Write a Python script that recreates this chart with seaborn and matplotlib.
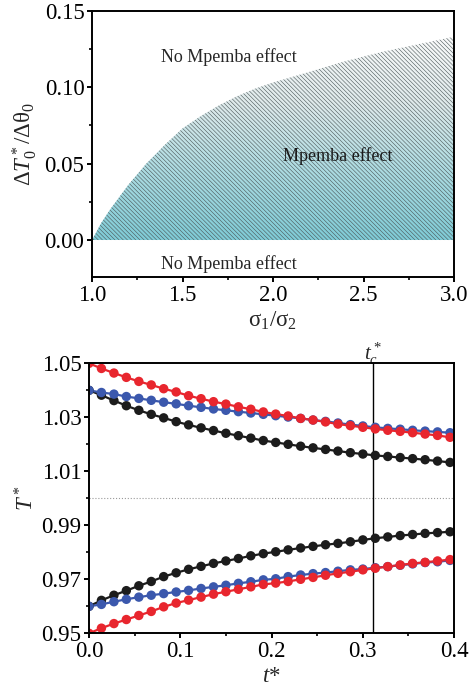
import numpy as np
import pandas as pd
import matplotlib
matplotlib.use("Agg")
import matplotlib.pyplot as plt
from matplotlib.colors import LinearSegmentedColormap
from matplotlib.ticker import MultipleLocator, FormatStrFormatter
import seaborn as sns

# ---------------- data ----------------
# Phase boundary for the Mpemba effect
sigma_ratio = [1.0, 1.05, 1.1, 1.15, 1.2, 1.25, 1.3, 1.4, 1.5, 1.6, 1.7, 1.8,
               1.9, 2.0, 2.2, 2.4, 2.6, 2.8, 3.0]
dT_boundary = [0.0, 0.011, 0.020, 0.028, 0.036, 0.043, 0.050, 0.062, 0.073,
               0.081, 0.088, 0.094, 0.099, 0.103, 0.110, 0.117, 0.123, 0.128,
               0.133]

# Temperature relaxation
t_star = [0.0, 0.0136, 0.0273, 0.0409, 0.0546, 0.0682, 0.0818, 0.0955, 0.1091,
          0.1228, 0.1364, 0.1500, 0.1637, 0.1773, 0.1910, 0.2046, 0.2182,
          0.2319, 0.2455, 0.2592, 0.2728, 0.2864, 0.3001, 0.3137, 0.3274,
          0.3410, 0.3546, 0.3683, 0.3819, 0.3956]

black_hot = [1.0400, 1.0382, 1.0362, 1.0343, 1.0326, 1.0311, 1.0298, 1.0284,
             1.0272, 1.0261, 1.0251, 1.0241, 1.0232, 1.0223, 1.0214, 1.0207,
             1.0200, 1.0193, 1.0187, 1.0181, 1.0175, 1.0169, 1.0164, 1.0159,
             1.0155, 1.0151, 1.0147, 1.0143, 1.0138, 1.0133]
blue_hot = [1.0400, 1.0392, 1.0386, 1.0377, 1.0370, 1.0363, 1.0356, 1.0350,
            1.0343, 1.0337, 1.0331, 1.0326, 1.0321, 1.0316, 1.0311, 1.0306,
            1.0301, 1.0296, 1.0290, 1.0285, 1.0279, 1.0273, 1.0268, 1.0263,
            1.0259, 1.0256, 1.0252, 1.0249, 1.0246, 1.0243]
red_hot = [1.0500, 1.0481, 1.0464, 1.0448, 1.0433, 1.0420, 1.0406, 1.0394,
           1.0380, 1.0369, 1.0358, 1.0349, 1.0339, 1.0330, 1.0320, 1.0312,
           1.0305, 1.0296, 1.0290, 1.0283, 1.0275, 1.0269, 1.0263, 1.0257,
           1.0252, 1.0248, 1.0243, 1.0238, 1.0233, 1.0226]

black_cold = [0.9600, 0.9622, 0.9641, 0.9658, 0.9676, 0.9692, 0.9710, 0.9724,
              0.9737, 0.9748, 0.9759, 0.9768, 0.9777, 0.9787, 0.9795, 0.9802,
              0.9809, 0.9816, 0.9822, 0.9828, 0.9833, 0.9839, 0.9846, 0.9852,
              0.9857, 0.9862, 0.9866, 0.9870, 0.9873, 0.9876]
blue_cold = [0.9600, 0.9607, 0.9617, 0.9626, 0.9634, 0.9641, 0.9647, 0.9653,
             0.9659, 0.9666, 0.9672, 0.9678, 0.9685, 0.9691, 0.9698, 0.9702,
             0.9710, 0.9716, 0.9721, 0.9725, 0.9730, 0.9735, 0.9738, 0.9743,
             0.9747, 0.9752, 0.9757, 0.9762, 0.9765, 0.9770]
red_cold = [0.9500, 0.9519, 0.9536, 0.9551, 0.9566, 0.9581, 0.9598, 0.9612,
            0.9623, 0.9634, 0.9645, 0.9654, 0.9663, 0.9672, 0.9681, 0.9686,
            0.9692, 0.9700, 0.9707, 0.9715, 0.9722, 0.9728, 0.9735, 0.9741,
            0.9747, 0.9753, 0.9759, 0.9763, 0.9768, 0.9773]

t_crossing = 0.311
cases = ["black", "blue", "red"]
palette = {"black": "#1c1c1c", "blue": "#3b58ad", "red": "#e8262e"}

# ---------------- style ----------------
sns.set_theme(style="ticks")
plt.rcParams.update({
    "font.family": ["Liberation Serif", "DejaVu Serif"],
    "mathtext.fontset": "custom",
    "mathtext.rm": "Liberation Serif",
    "mathtext.it": "Liberation Serif:italic",
    "mathtext.bf": "Liberation Serif:bold",
    "axes.linewidth": 1.4,
    "axes.edgecolor": "black",
    "xtick.major.width": 1.4, "ytick.major.width": 1.4,
    "xtick.minor.width": 1.2, "ytick.minor.width": 1.2,
    "xtick.major.size": 3.5, "ytick.major.size": 3.5,
    "xtick.minor.size": 2.2, "ytick.minor.size": 2.2,
    "xtick.direction": "out", "ytick.direction": "out",
    "xtick.color": "black", "ytick.color": "black",
    "hatch.linewidth": 0.4,
})

fig = plt.figure(figsize=(4.69, 6.91), dpi=100)
ax1 = fig.add_axes([0.1962, 0.5991, 0.7719, 0.3854])
ax2 = fig.add_axes([0.1898, 0.0835, 0.7783, 0.3907])

# ---------------- top panel: phase diagram ----------------
sig = np.asarray(sigma_ratio)
dtb = np.asarray(dT_boundary)
region = ax1.fill_between(sig, 0, dtb, facecolor="none", edgecolor="none",
                          linewidth=0)
grad_cmap = LinearSegmentedColormap.from_list(
    "teal_fade", ["#7fcbd6", "#acdbe1", "#dfeaeb", "#fbfbfb"])
grad = np.linspace(0, 1, 256).reshape(-1, 1)
img = ax1.imshow(grad, extent=[1.0, 3.0, 0.0, 0.135], origin="lower",
                 aspect="auto", cmap=grad_cmap, zorder=1)
img.set_clip_path(region.get_paths()[0], transform=ax1.transData)
ax1.fill_between(sig, 0, dtb, facecolor="none", edgecolor="#4a5557",
                 hatch="\\" * 8, linewidth=0, zorder=2)

ax1.text(1.757, 0.120, "No Mpemba effect", ha="center", va="center",
         fontsize=13)
ax1.text(2.355, 0.055, "Mpemba effect", ha="center", va="center",
         fontsize=13, color="#1a1a1a")
ax1.text(1.757, -0.0157, "No Mpemba effect", ha="center", va="center",
         fontsize=13)

ax1.set_xlim(1.0, 3.0)
ax1.set_ylim(-0.0242, 0.15)
ax1.xaxis.set_major_locator(MultipleLocator(0.5))
ax1.xaxis.set_minor_locator(MultipleLocator(0.25))
ax1.yaxis.set_major_locator(MultipleLocator(0.05))
ax1.yaxis.set_minor_locator(MultipleLocator(0.025))
ax1.xaxis.set_major_formatter(FormatStrFormatter("%.1f"))
ax1.yaxis.set_major_formatter(FormatStrFormatter("%.2f"))
ax1.tick_params(labelsize=16.5, pad=2)
ax1.set_xlabel("σ$_1$/σ$_2$", fontsize=16.5, labelpad=3)
ax1.set_ylabel("Δ$\\mathit{T}_0^*$/Δθ$_0$", fontsize=16.5, labelpad=4)

# ---------------- bottom panel: relaxation curves ----------------
series = {
    ("black", "hot"): black_hot, ("black", "cold"): black_cold,
    ("blue", "hot"): blue_hot, ("blue", "cold"): blue_cold,
    ("red", "hot"): red_hot, ("red", "cold"): red_cold,
}
frames = []
for (case, branch), vals in series.items():
    frames.append(pd.DataFrame({"t": t_star, "T": vals, "case": case,
                                "branch": f"{case}-{branch}"}))
df = pd.concat(frames, ignore_index=True)

ax2.axhline(1.0, color="#9a9a9a", linestyle=":", linewidth=0.8, zorder=1)
ax2.axvline(t_crossing, color="black", linewidth=1.0, zorder=1)

for case in cases:
    sub = df[df["case"] == case]
    sns.lineplot(data=sub, x="t", y="T", units="branch", estimator=None,
                 color=palette[case], linewidth=1.6, ax=ax2, zorder=3,
                 legend=False, sort=True)
    sns.scatterplot(data=sub, x="t", y="T", color=palette[case], s=46,
                    edgecolor="none", ax=ax2, zorder=4, legend=False)

ax2.text(t_crossing, 1.0535, "$t_c^*$", ha="center", va="center",
         fontsize=15)

ax2.set_xlim(0.0, 0.4)
ax2.set_ylim(0.95, 1.05)
ax2.xaxis.set_major_locator(MultipleLocator(0.1))
ax2.xaxis.set_minor_locator(MultipleLocator(0.05))
ax2.yaxis.set_minor_locator(MultipleLocator(0.01))
ax2.set_yticks([0.95, 0.97, 0.99, 1.01, 1.03, 1.05])
ax2.xaxis.set_major_formatter(FormatStrFormatter("%.1f"))
ax2.yaxis.set_major_formatter(FormatStrFormatter("%.2f"))
ax2.tick_params(labelsize=16.5, pad=2)
ax2.set_xlabel("$\\mathit{t}$*", fontsize=16.5, labelpad=3)
ax2.set_ylabel("$\\mathit{T}^*$", fontsize=16.5, labelpad=2)

for ax in (ax1, ax2):
    for sp in ax.spines.values():
        sp.set_visible(True)
        sp.set_zorder(6)

fig.savefig("out.png", dpi=100)
